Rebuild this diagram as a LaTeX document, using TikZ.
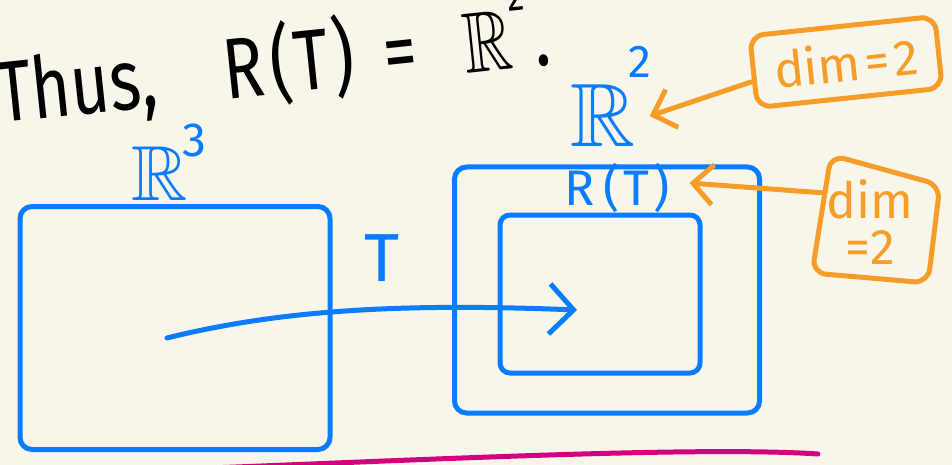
\documentclass[tikz,border=0pt]{standalone}
\usepackage{amssymb}
\usepackage{fontspec}
\setmainfont{Fira Sans}
\usetikzlibrary{arrows.meta,positioning}
\definecolor{paper}{RGB}{248,246,234}
\definecolor{penblue}{RGB}{10,124,255}
\definecolor{penorange}{RGB}{246,156,40}
\definecolor{penpink}{RGB}{212,0,128}
\newcommand{\pensize}[1]{\fontsize{#1}{#1}\selectfont}
\tikzset{
  ink/.style={line width=5pt,line cap=round,line join=round},
  space/.style={ink,draw=penblue,rounded corners=12pt},
  lbl/.style={text=penblue,inner sep=0pt},
  note/.style={text=penorange,align=center,inner sep=0pt,font=\pensize{50}},
  notebox/.style={ink,draw=penorange,rounded corners=14pt},
  map/.style={ink,draw=penblue,-{Straight Barb[length=24pt,width=50pt]}},
  pointer/.style={ink,draw=penorange,-{Straight Barb[length=20pt,width=40pt]}},
}
\begin{document}
\begin{tikzpicture}[x=1pt,y=-1pt]
\useasboundingbox (0,0) rectangle (952,465);
\fill[paper] (0,0) rectangle (952,465);
\node[anchor=base west,inner sep=0pt,rotate=6] (eq) at (0,123)
  {\scalebox{0.78}[1]{\pensize{86}Thus,\hspace{86pt}R\kern8pt(\kern4pt T\kern4pt)\hspace{38pt}=\hspace{60pt}$\mathbb{R}$\raisebox{58pt}{\pensize{44}2}\kern6pt.}};
\node[space,minimum width=310pt,minimum height=243pt] (dom) at (175,328) {};
\node[lbl,font=\pensize{78}] (rthree) at (160,174) {$\mathbb{R}$};
\node[lbl,font=\pensize{48},anchor=base west] (rthreeexp) at (182,157) {3};
\node[space,minimum width=305pt,minimum height=246pt] (cod) at (607,290) {};
\node[space,minimum width=200pt,minimum height=158pt,rounded corners=10pt] (rng) at (600,294) {};
\node[lbl,font=\pensize{50}] (rt) at (617,188) {R\kern8pt(\kern4pt T\kern4pt)};
\node[lbl,font=\pensize{90}] (rtwo) at (603,116) {$\mathbb{R}$};
\node[lbl,font=\pensize{46},anchor=base west] (rtwoexp) at (628,78) {2};
\node[lbl,font=\pensize{68}] (tl) at (382,258) {T};
\coordinate (tail) at (167,338);
\coordinate (tip) at (577,310);
\draw[map] (tail) .. controls (280,310) and (400,303) .. (tip);
\node[note,notebox,draw,minimum width=186pt,minimum height=72pt,rotate=6] (dima) at (846,62) {dim\kern4pt=\kern4pt2};
\node[note] (dimb) at (870,222) {dim\\[-4pt]=2};
\draw[notebox] ([shift={(-39,-67)}]dimb.center) -- ([shift={(70,-37)}]dimb.center)
  -- ([shift={(58,61)}]dimb.center) -- ([shift={(-58,51)}]dimb.center) -- cycle;
\draw[pointer] ([yshift=-10pt]dima.west) -- ([xshift=14pt]rtwo.east);
\draw[pointer] ([shift={(-45,-29)}]dimb.center) -- ([xshift=20pt,yshift=5pt]rt.east);
\draw[ink,penpink] (210,468) .. controls (420,460) and (700,446) .. (818,454);
\end{tikzpicture}
\end{document}
